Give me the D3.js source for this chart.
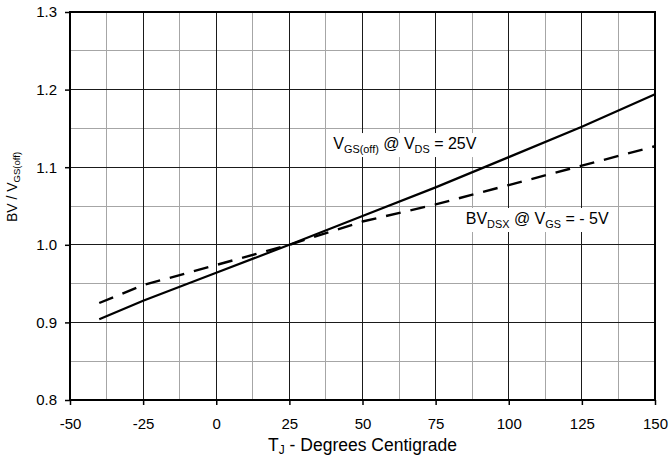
<!DOCTYPE html>
<html>
<head>
<meta charset="utf-8">
<script src="https://cdn.jsdelivr.net/npm/d3@7"></script>
<style>
	body { margin: 0; background: #fff; }
	svg text { font-family: Arial, "Liberation Sans", sans-serif; fill: #000; }
</style>
</head>
<body>
<div id="chart"></div>
<script>
// temperatures (deg C)
const temps = [-40, -25, 0, 25, 50, 75, 100, 125, 150];
const vgsOff = [0.904, 0.928, 0.964, 1.0, 1.037, 1.074, 1.113, 1.152, 1.194];
const bvDsx = [0.925, 0.948, 0.974, 1.0, 1.030, 1.052, 1.077, 1.102, 1.127];

const xTicks = [-50, -25, 0, 25, 50, 75, 100, 125, 150];
const xMinor = [-37.5, -12.5, 12.5, 37.5, 62.5, 87.5, 112.5, 137.5];
const yTicks = [0.8, 0.9, 1.0, 1.1, 1.2, 1.3];
const yMinor = [0.85, 0.95, 1.05, 1.15, 1.25];

const W = 671, H = 459;
const margin = {top: 12, right: 16, bottom: 59, left: 70};
const width = W - margin.left - margin.right,
		height = H - margin.top - margin.bottom;

const svg = d3.select("#chart")
	.append("svg")
		.attr("width", W)
		.attr("height", H)
	.append("g")
		.attr("transform", `translate(${margin.left},${margin.top})`);

const x = d3.scaleLinear().domain([-50, 150]).range([0, width]);
const y = d3.scaleLinear().domain([0.8, 1.3]).range([height, 0]);

// grid
const grid = svg.append("g").attr("shape-rendering", "crispEdges");
grid.selectAll(".vmin").data(xMinor).join("line")
	.attr("x1", d => x(d)).attr("x2", d => x(d))
	.attr("y1", 0).attr("y2", height)
	.attr("stroke", "#a6a6a6");
grid.selectAll(".hmin").data(yMinor).join("line")
	.attr("x1", 0).attr("x2", width)
	.attr("y1", d => y(d)).attr("y2", d => y(d))
	.attr("stroke", "#a6a6a6");
grid.selectAll(".vmaj").data(xTicks).join("line")
	.attr("x1", d => x(d)).attr("x2", d => x(d))
	.attr("y1", 0).attr("y2", height)
	.attr("stroke", "#1a1a1a");
grid.selectAll(".hmaj").data(yTicks).join("line")
	.attr("x1", 0).attr("x2", width)
	.attr("y1", d => y(d)).attr("y2", d => y(d))
	.attr("stroke", "#1a1a1a");

// axes
const xAxis = svg.append("g")
	.attr("transform", `translate(0,${height})`)
	.call(d3.axisBottom(x).tickValues(xTicks).tickSize(5).tickPadding(13).tickFormat(d => String(d)));
const yAxis = svg.append("g")
	.call(d3.axisLeft(y).tickValues(yTicks).tickSize(5).tickPadding(8).tickFormat(d => d.toFixed(1)));
[xAxis, yAxis].forEach(a => {
	a.selectAll("text").style("font-size", "15px").attr("fill", "#000");
	a.selectAll("line").attr("stroke", "#000").attr("stroke-width", 1.5);
	a.select(".domain").remove();
	a.attr("font-family", null);
});
svg.append("rect")
	.attr("width", width).attr("height", height)
	.attr("fill", "none").attr("stroke", "#000").attr("stroke-width", 1.5)
	.attr("shape-rendering", "crispEdges");

// curves
const line = d3.line().x(d => x(d[0])).y(d => y(d[1]));
svg.append("path")
	.datum(temps.map((t, i) => [t, bvDsx[i]]))
	.attr("fill", "none").attr("stroke", "#000")
	.attr("stroke-width", 2.4).attr("stroke-dasharray", "15,10")
	.attr("d", line);
svg.append("path")
	.datum(temps.map((t, i) => [t, vgsOff[i]]))
	.attr("fill", "none").attr("stroke", "#000")
	.attr("stroke-width", 2.2)
	.attr("d", line);

// curve labels, with white boxes behind
function richText(g, parts, size, drop) {
	const t = g.append("text").style("font-size", size + "px");
	let shift = 0;
	parts.forEach(p => {
		const s = p.sub ? drop : 0;
		t.append("tspan")
			.attr("dy", s - shift)
			.style("font-size", p.sub ? (size * 0.68) + "px" : size + "px")
			.text(p.t);
		shift = s;
	});
	return t;
}

const labels = [
	{x: 40, y: 1.1234, parts: [{t: "V"}, {t: "GS(off)", sub: true}, {t: " @ V"}, {t: "DS", sub: true}, {t: " = 25V"}]},
	{x: 85.3, y: 1.0268, parts: [{t: "BV"}, {t: "DSX", sub: true}, {t: " @ V"}, {t: "GS", sub: true}, {t: " = - 5V"}]}
];
labels.forEach(l => {
	const g = svg.append("g").attr("transform", `translate(${x(l.x)},${y(l.y)})`);
	const box = g.append("rect").attr("fill", "#fff");
	const t = richText(g, l.parts, 16, 4);
	const bb = t.node().getBBox();
	box.attr("x", bb.x - 4).attr("y", bb.y - 2).attr("width", bb.width + 8).attr("height", bb.height + 4);
});

// axis titles
const xt = richText(svg.append("g").attr("transform", `translate(${width / 2},${height + 51})`),
	[{t: "T"}, {t: "J", sub: true}, {t: " - Degrees Centigrade"}], 17.5, 3);
xt.attr("text-anchor", "middle");

const yt = richText(svg.append("g").attr("transform", `translate(${17 - margin.left},${187 - margin.top}) rotate(-90)`),
	[{t: "BV / V"}, {t: "GS(off)", sub: true}], 14, 3);
yt.attr("text-anchor", "middle");
</script>
</body>
</html>
